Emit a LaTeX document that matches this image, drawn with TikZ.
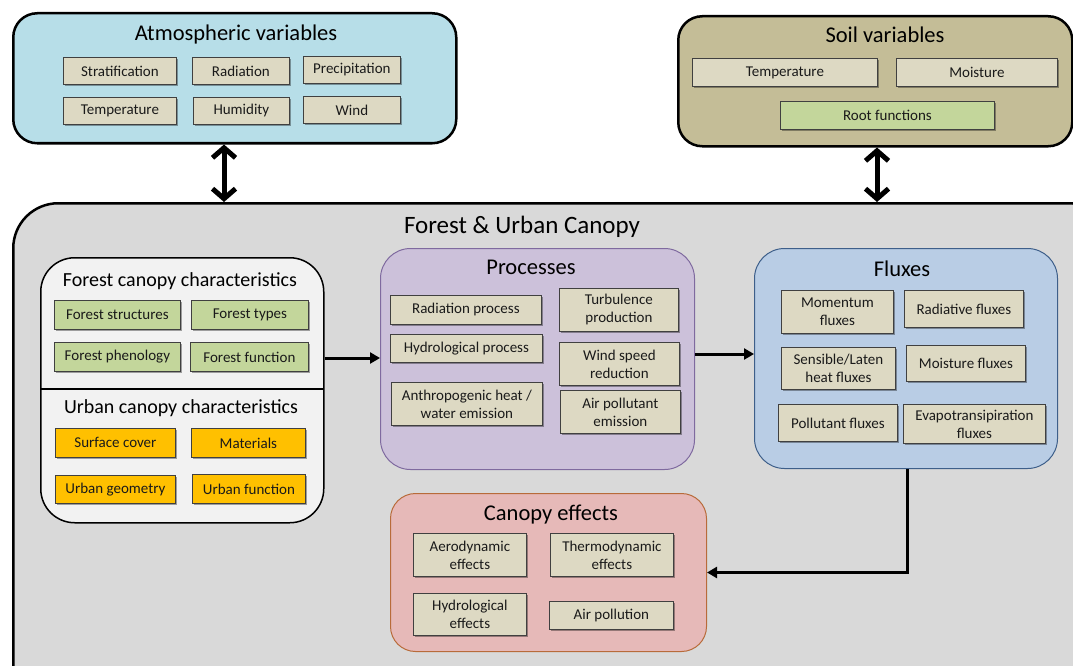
\documentclass[tikz,border=0pt]{standalone}
\usepackage{fontspec}
\setmainfont{Carlito}
\usetikzlibrary{arrows.meta,shadows,calc}
\definecolor{atmc}{HTML}{B7DEE8}
\definecolor{soilc}{HTML}{C4BD97}
\definecolor{canc}{HTML}{D9D9D9}
\definecolor{fcc}{HTML}{F2F2F2}
\definecolor{tanc}{HTML}{DDD9C3}
\definecolor{greenc}{HTML}{C3D69B}
\definecolor{orangec}{HTML}{FFC000}
\definecolor{procc}{HTML}{CCC1DA}
\definecolor{procb}{HTML}{7F6A9F}
\definecolor{fluxc}{HTML}{B9CDE5}
\definecolor{fluxb}{HTML}{3E5F8A}
\definecolor{effc}{HTML}{E6B9B8}
\definecolor{effb}{HTML}{B86B3A}
\definecolor{txt}{HTML}{1A1A1A}
\tikzset{
  ibox/.style={draw=black!75, fill=tanc, line width=0.8pt, align=center, text=txt,
    font=\fontsize{15}{18}\selectfont, inner sep=1pt, anchor=north west,
    drop shadow={shadow xshift=1.2pt, shadow yshift=-1.5pt, opacity=0.35, fill=black}},
  gbox/.style={ibox, fill=greenc},
  obox/.style={ibox, fill=orangec},
  container/.style={anchor=north west, inner sep=0pt},
  title/.style={font=\fontsize{22.5}{26}\selectfont, inner sep=0pt},
  subtitle/.style={font=\fontsize{20}{23}\selectfont, inner sep=0pt},
  arr/.style={line width=3pt, -{Triangle[length=10pt,width=11pt]}},
  dbl/.style={line width=5pt, {Straight Barb[length=10pt,width=23pt]}-{Straight Barb[length=10pt,width=23pt]}},
}
\newcommand\mybox[6]{\node[#1, minimum width=#4pt, minimum height=#5pt] (#2) at (#3) {#6};}
\begin{document}
\begin{tikzpicture}[x=1pt,y=-1pt]
\useasboundingbox (0,0) rectangle (1073,666);
\clip (0,0) rectangle (1073,666);
\fill[white] (0,0) rectangle (1073,666);
% Atmospheric variables
\node[container, draw=black, line width=2.5pt, fill=atmc, rounded corners=24pt,
  minimum width=443pt, minimum height=130pt] (atm) at (12,12) {};
\node[title] (atmt) at (236,35) {Atmospheric variables};
\mybox{ibox}{strat}{63,57}{113}{27}{Stratification}
\mybox{ibox}{rad}{192,57}{97}{27}{Radiation}
\mybox{ibox}{prec}{303,56}{97}{27}{Precipitation}
\mybox{ibox}{temp}{63,97}{113}{27}{Temperature}
\mybox{ibox}{hum}{193,97}{96}{27}{Humidity}
\mybox{ibox}{wind}{303,96}{97}{27}{Wind}
% Soil variables
\node[container, draw=black, line width=2.5pt, fill=soilc, rounded corners=24pt,
  minimum width=394pt, minimum height=130pt] (soil) at (677,15) {};
\node[title] (soilt) at (885,35) {Soil variables};
\mybox{ibox}{stemp}{692,58}{185}{28}{Temperature}
\mybox{ibox}{smoist}{896,58}{161}{28}{Moisture}
\mybox{gbox}{root}{780,101}{214}{28}{Root functions}
% Forest & Urban canopy
\node[container, draw=black, line width=2.5pt, fill=canc, rounded corners=45pt,
  minimum width=1100pt, minimum height=520pt] (canopy) at (12,202) {};
\node[title, font=\fontsize{25}{28}\selectfont] (canopyt) at (522,227) {Forest \& Urban Canopy};
% Canopy characteristics
\node[container, draw=black, line width=1.5pt, fill=fcc, rounded corners=34pt,
  minimum width=283pt, minimum height=265pt] (fc) at (40,257) {};
\coordinate (divl) at (40,389);
\coordinate (divr) at (323,389);
\draw[line width=1.5pt] (divl) -- (divr);
\node[subtitle] (fct) at (180,281) {Forest canopy characteristics};
\mybox{gbox}{fstruct}{54,300}{126}{29}{Forest structures}
\mybox{gbox}{ftypes}{191,300}{117}{29}{Forest types}
\mybox{gbox}{fphen}{54,342}{126}{29}{Forest phenology}
\mybox{gbox}{ffunc}{190,342}{118}{29}{Forest function}
\node[subtitle] (uct) at (181,408) {Urban canopy characteristics};
\mybox{obox}{surf}{55,428}{120}{29}{Surface cover}
\mybox{obox}{mat}{191,428}{114}{29}{Materials}
\mybox{obox}{ugeo}{55,475}{120}{28}{Urban geometry}
\mybox{obox}{ufunc}{192,474}{113}{29}{Urban function}
% Processes
\node[container, draw=procb, line width=1pt, fill=procc, rounded corners=30pt,
  minimum width=314pt, minimum height=221pt] (proc) at (380,248) {};
\node[title] (proct) at (531,267) {Processes};
\mybox{ibox}{radp}{390,295}{151}{29}{Radiation process}
\mybox{ibox}{hydp}{390,334}{152}{28}{Hydrological process}
\mybox{ibox}{anth}{391,382}{151}{43}{Anthropogenic heat /\\water emission}
\mybox{ibox}{turb}{559,288}{119}{43}{Turbulence\\production}
\mybox{ibox}{winds}{559,342}{120}{43}{Wind speed\\reduction}
\mybox{ibox}{airp}{560,390}{120}{43}{Air pollutant\\emission}
% Fluxes
\node[container, draw=fluxb, line width=1pt, fill=fluxc, rounded corners=30pt,
  minimum width=303pt, minimum height=220pt] (flux) at (754,248) {};
\node[title] (fluxt) at (902,269) {Fluxes};
\mybox{ibox}{mom}{781,290}{112}{43}{Momentum\\fluxes}
\mybox{ibox}{radf}{904,290}{119}{37}{Radiative fluxes}
\mybox{ibox}{sens}{781,347}{114}{42}{Sensible/Laten\\heat fluxes}
\mybox{ibox}{moistf}{906,345}{119}{36}{Moisture fluxes}
\mybox{ibox}{pollf}{778,404}{119}{37}{Pollutant fluxes}
\mybox{ibox}{evap}{903,404}{142}{39}{Evapotransipiration\\fluxes}
% Canopy effects
\node[container, draw=effb, line width=1pt, fill=effc, rounded corners=25pt,
  minimum width=316pt, minimum height=158pt] (eff) at (390,493) {};
\node[title] (efft) at (551,515) {Canopy effects};
\mybox{ibox}{aero}{413,533}{113}{43}{Aerodynamic\\effects}
\mybox{ibox}{thermo}{550,533}{123}{43}{Thermodynamic\\effects}
\mybox{ibox}{hydro}{413,593}{113}{42}{Hydrological\\effects}
\mybox{ibox}{airpol}{549,601}{124}{28}{Air pollution}
% Connectors
\coordinate (xa) at (224,0);
\coordinate (xs) at (877,0);
\coordinate (y1) at (0,358);
\coordinate (y2) at (0,354);
\coordinate (xf) at (907,0);
\draw[dbl] (atm.south -| xa) -- (canopy.north -| xa);
\draw[dbl] (soil.south -| xs) -- (canopy.north -| xs);
\draw[arr] (fc.east |- y1) -- (proc.west |- y1);
\draw[arr] (proc.east |- y2) -- (flux.west |- y2);
\draw[arr] (flux.south -| xf) |- (eff.east);
\end{tikzpicture}
\end{document}
